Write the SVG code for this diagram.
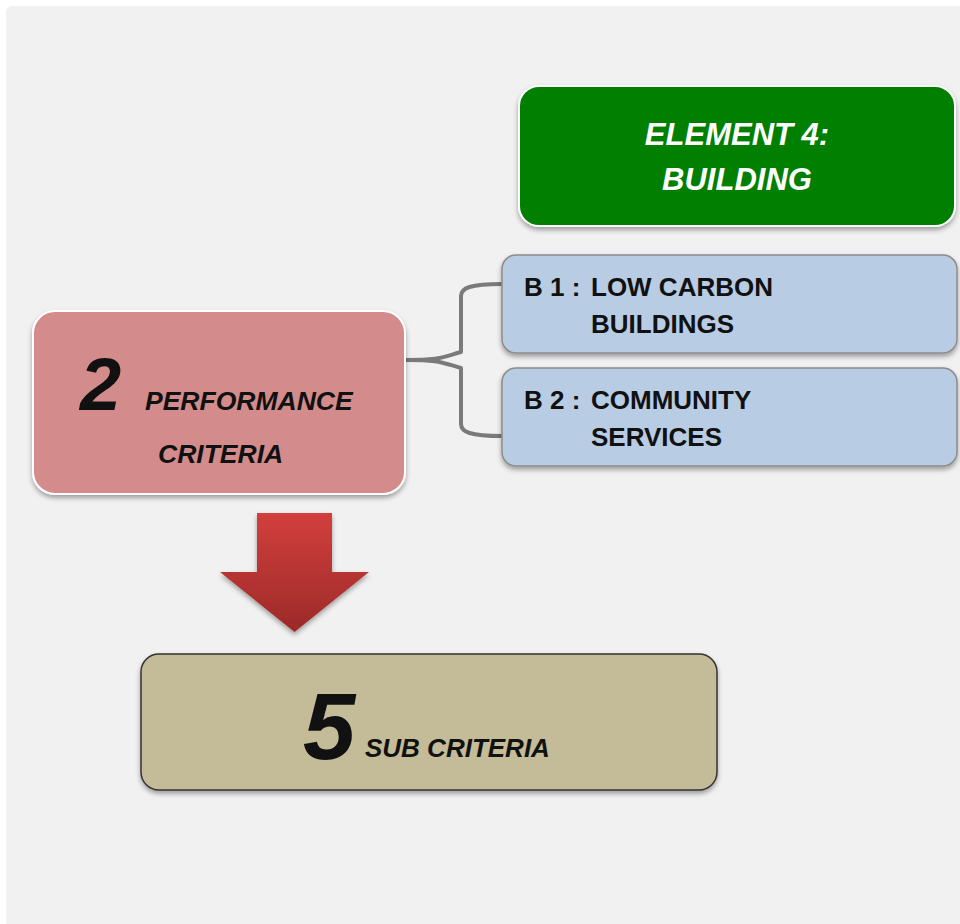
<svg xmlns="http://www.w3.org/2000/svg" width="960" height="924" viewBox="0 0 960 924">
<defs>
<style>
.t{font-family:"Liberation Sans",Arial,sans-serif;font-weight:bold;fill:#111;}
.it{font-style:italic;}
.w{fill:#ffffff;}
.conn{fill:none;stroke:#7a7a7a;stroke-width:4;stroke-linejoin:round;}
</style>
<filter id="sh" x="-10%" y="-10%" width="120%" height="130%">
<feDropShadow dx="0" dy="3" stdDeviation="2.5" flood-color="#000" flood-opacity="0.35"/>
</filter>
<linearGradient id="ag" x1="0" y1="0" x2="0" y2="1">
<stop offset="0" stop-color="#d23f3c"/>
<stop offset="1" stop-color="#9c2a29"/>
</linearGradient>
</defs>
<rect x="0" y="0" width="960" height="924" fill="#ffffff"/>
<rect x="6" y="6" width="960" height="930" rx="6" fill="#f1f1f1"/>

<g id="connectors">
<path class="conn" d="M405,360 C440,360 440,358 461,352 L461,296 C461,288 470,284 502,284"/>
<path class="conn" d="M405,360 C440,360 440,362 461,368 L461,424 C461,432 470,436 502,436"/>
</g>

<g id="element4">
<rect x="519" y="86" width="436" height="140" rx="20" fill="#007f00" stroke="#ffffff" stroke-width="2" filter="url(#sh)"/>
<text class="t it w" x="737" y="145" font-size="31" text-anchor="middle">ELEMENT 4:</text>
<text class="t it w" x="737" y="190" font-size="31" text-anchor="middle">BUILDING</text>
</g>

<g id="b1">
<rect x="502" y="255" width="455" height="98" rx="14" fill="#b8cce4" stroke="#8c8c8c" stroke-width="1.5" filter="url(#sh)"/>
<text class="t" x="524" y="296" font-size="26">B 1 :</text>
<text class="t" x="591" y="296" font-size="26">LOW CARBON</text>
<text class="t" x="591" y="333" font-size="26">BUILDINGS</text>
</g>

<g id="b2">
<rect x="502" y="368" width="455" height="98" rx="14" fill="#b8cce4" stroke="#8c8c8c" stroke-width="1.5" filter="url(#sh)"/>
<text class="t" x="524" y="409" font-size="26">B 2 :</text>
<text class="t" x="591" y="409" font-size="26">COMMUNITY</text>
<text class="t" x="591" y="446" font-size="26">SERVICES</text>
</g>

<g id="performance">
<rect x="33" y="311" width="372" height="183" rx="22" fill="#d38c8b" stroke="#ffffff" stroke-width="2" filter="url(#sh)"/>
<text class="t it" x="80" y="410" font-size="74">2</text>
<text class="t it" x="145" y="410" font-size="26.5">PERFORMANCE</text>
<text class="t it" x="158" y="463" font-size="26.5">CRITERIA</text>
</g>

<g id="arrow">
<polygon points="257,513 332,513 332,572 369,572 294.5,632 220,572 257,572" fill="url(#ag)" filter="url(#sh)"/>
</g>

<g id="subcriteria">
<rect x="141" y="654" width="576" height="136" rx="18" fill="#c4bc98" stroke="#333333" stroke-width="1.5" filter="url(#sh)"/>
<text class="t it" x="303" y="759" font-size="94">5</text>
<text class="t it" x="365" y="757" font-size="26">SUB CRITERIA</text>
</g>
</svg>
